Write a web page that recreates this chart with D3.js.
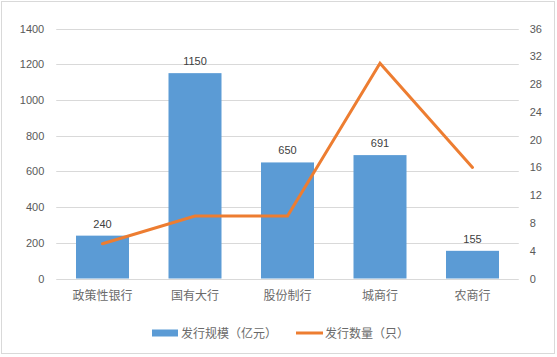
<!DOCTYPE html>
<html><head><meta charset="utf-8">
<script src="https://cdn.jsdelivr.net/npm/d3@7"></script>
<style>body{margin:0;background:#fff}</style>
</head><body>
<script>
const categories = ["政策性银行","国有大行","股份制行","城商行","农商行"];
const scaleValues = [240,1150,650,691,155];
const countValues = [5,9,9,31,16];
const leftTicks = [0,200,400,600,800,1000,1200,1400];
const rightTicks = [0,4,8,12,16,20,24,28,32,36];
const legendLabels = ["发行规模（亿元）","发行数量（只）"];

const W=557,H=357;
const svg=d3.select("body").append("svg").attr("width",W).attr("height",H);
svg.append("rect").attr("x",1.5).attr("y",1.5).attr("width",553).attr("height",352)
  .attr("fill","#fff").attr("stroke","#D9D9D9");
const L=56.25,R=518.75,T=28.5,B=278.5;
const x=d3.scaleBand().domain(categories).range([L,R]).paddingInner(0.427).paddingOuter(0.2135);
const yL=d3.scaleLinear().domain([0,1400]).range([B,T]);
const yR=d3.scaleLinear().domain([0,36]).range([B,T]);
const font="'Liberation Sans', Arial, sans-serif";
const cjk="'Noto Sans CJK SC', sans-serif";

// gridlines
svg.append("g").selectAll("line").data(leftTicks).join("line")
  .attr("x1",L).attr("x2",R).attr("y1",d=>Math.round(yL(d))+0.5).attr("y2",d=>Math.round(yL(d))+0.5)
  .attr("stroke","#D9D9D9").attr("stroke-width",1);

// left axis
const gl=svg.append("g").attr("transform",`translate(${L},0)`)
  .call(d3.axisLeft(yL).tickValues(leftTicks).tickFormat(d3.format("d")).tickSize(0).tickPadding(12));
gl.select(".domain").remove();
gl.selectAll("text").attr("font-family",font).attr("font-size",11).attr("fill","#595959");
// right axis
const gr=svg.append("g").attr("transform",`translate(${R},0)`)
  .call(d3.axisRight(yR).tickValues(rightTicks).tickFormat(d3.format("d")).tickSize(0).tickPadding(11));
gr.select(".domain").remove();
gr.selectAll("text").attr("font-family",font).attr("font-size",11).attr("fill","#595959");

// bars
svg.append("g").selectAll("rect").data(categories).join("rect")
  .attr("x",d=>x(d)).attr("width",x.bandwidth())
  .attr("y",(d,i)=>yL(scaleValues[i])).attr("height",(d,i)=>B-yL(scaleValues[i]))
  .attr("fill","#5B9BD5");
// bar labels
svg.append("g").selectAll("text").data(categories).join("text")
  .attr("x",d=>x(d)+x.bandwidth()/2).attr("y",(d,i)=>yL(scaleValues[i])-8)
  .attr("text-anchor","middle").attr("font-family",font).attr("font-size",11).attr("fill","#404040")
  .text((d,i)=>scaleValues[i]);

// line
const line=d3.line().x((d,i)=>x(categories[i])+x.bandwidth()/2).y(d=>yR(d));
svg.append("path").datum(countValues).attr("d",line).attr("fill","none")
  .attr("stroke","#ED7D31").attr("stroke-width",3).attr("stroke-linejoin","miter").attr("stroke-linecap","round");

// category labels
svg.append("g").selectAll("text").data(categories).join("text")
  .attr("x",d=>x(d)+x.bandwidth()/2).attr("y",300)
  .attr("text-anchor","middle").attr("font-family",cjk).attr("font-size",12).attr("fill","#6a6a6a")
  .text(d=>d);

// legend
const lg=svg.append("g");
lg.append("rect").attr("x",152).attr("y",329.5).attr("width",26).attr("height",7).attr("fill","#5B9BD5");
lg.append("text").attr("x",181).attr("y",337.5).attr("font-family",cjk).attr("font-size",12).attr("fill","#6a6a6a").text(legendLabels[0]);
lg.append("line").attr("x1",296).attr("x2",323).attr("y1",333).attr("y2",333).attr("stroke","#ED7D31").attr("stroke-width",3);
lg.append("text").attr("x",325).attr("y",337.5).attr("font-family",cjk).attr("font-size",12).attr("fill","#6a6a6a").text(legendLabels[1]);
</script>
</body></html>
